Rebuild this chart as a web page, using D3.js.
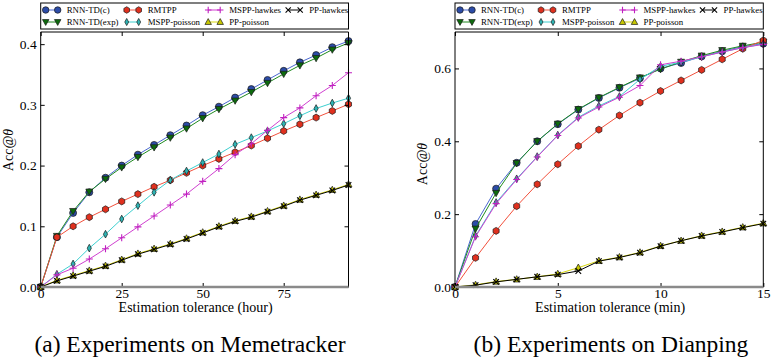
<!DOCTYPE html>
<html>
<head>
<meta charset="utf-8">
<script src="https://cdn.jsdelivr.net/npm/d3@7"></script>
<style>
    body { margin: 0; background: #fff; }
    text { font-family: "Liberation Serif", "Times New Roman", serif; fill: #000; }
</style>
</head>
<body>
<script>
//series names, in legend order
var seriesNames = ["RNN-TD(c)", "RNN-TD(exp)", "RMTPP", "MSPP-poisson", "MSPP-hawkes", "PP-poisson", "PP-hawkes"];

//memetracker panel (hours)
var memeHours = [0, 5, 10, 15, 20, 25, 30, 35, 40, 45, 50, 55, 60, 65, 70, 75, 80, 85, 90, 95];
var memeRnnC = [0, 0.082, 0.122, 0.156, 0.180, 0.200, 0.218, 0.234, 0.250, 0.266, 0.283, 0.297, 0.312, 0.326, 0.341, 0.356, 0.370, 0.382, 0.395, 0.405];
var memeRnnExp = [0, 0.084, 0.125, 0.157, 0.178, 0.197, 0.214, 0.230, 0.246, 0.261, 0.278, 0.293, 0.307, 0.321, 0.336, 0.351, 0.365, 0.377, 0.391, 0.402];
var memeRmtpp = [0, 0.082, 0.100, 0.115, 0.128, 0.141, 0.153, 0.165, 0.176, 0.188, 0.200, 0.211, 0.222, 0.233, 0.245, 0.257, 0.268, 0.279, 0.290, 0.301];
var memeMsppPoisson = [0, 0.021, 0.038, 0.064, 0.087, 0.112, 0.134, 0.156, 0.176, 0.191, 0.205, 0.219, 0.235, 0.246, 0.257, 0.269, 0.282, 0.294, 0.303, 0.311];
var memeMsppHawkes = [0, 0.020, 0.031, 0.046, 0.063, 0.081, 0.099, 0.117, 0.135, 0.153, 0.174, 0.195, 0.218, 0.236, 0.258, 0.279, 0.295, 0.315, 0.332, 0.353];
var memePpPoisson = [0, 0.011, 0.019, 0.027, 0.035, 0.045, 0.055, 0.063, 0.071, 0.080, 0.090, 0.100, 0.109, 0.116, 0.125, 0.134, 0.144, 0.152, 0.160, 0.169];
var memePpHawkes = [0, 0.010, 0.018, 0.026, 0.034, 0.044, 0.054, 0.062, 0.070, 0.079, 0.089, 0.099, 0.108, 0.115, 0.124, 0.133, 0.143, 0.151, 0.159, 0.168];
var memeXTicks = [0, 25, 50, 75];
var memeYTicks = [0, 0.1, 0.2, 0.3, 0.4];

//dianping panel (minutes)
var dianMinutes = [0, 1, 2, 3, 4, 5, 6, 7, 8, 9, 10, 11, 12, 13, 14, 15];
var dianRnnC = [0, 0.173, 0.270, 0.341, 0.400, 0.447, 0.487, 0.519, 0.547, 0.573, 0.600, 0.615, 0.633, 0.647, 0.660, 0.668];
var dianRnnExp = [0, 0.160, 0.258, 0.340, 0.400, 0.448, 0.488, 0.520, 0.548, 0.575, 0.598, 0.618, 0.635, 0.650, 0.662, 0.672];
var dianRmtpp = [0, 0.080, 0.154, 0.222, 0.282, 0.337, 0.387, 0.432, 0.471, 0.506, 0.538, 0.567, 0.596, 0.625, 0.654, 0.677];
var dianMsppPoisson = [0, 0.140, 0.232, 0.297, 0.358, 0.417, 0.466, 0.497, 0.523, 0.570, 0.606, 0.617, 0.632, 0.645, 0.657, 0.667];
var dianMsppHawkes = [0, 0.138, 0.229, 0.295, 0.357, 0.416, 0.464, 0.494, 0.521, 0.553, 0.610, 0.620, 0.632, 0.645, 0.657, 0.666];
var dianPpPoisson = [0, 0.006, 0.015, 0.021, 0.028, 0.036, 0.053, 0.072, 0.082, 0.095, 0.113, 0.127, 0.141, 0.152, 0.164, 0.175];
var dianPpHawkes = [0, 0.005, 0.014, 0.021, 0.028, 0.034, 0.044, 0.071, 0.081, 0.094, 0.112, 0.127, 0.140, 0.151, 0.163, 0.174];
var dianXTicks = [0, 5, 10, 15];
var dianYTicks = [0, 0.2, 0.4, 0.6];

(function(){

    //look of each series (line colour, marker shape, marker fill)
    var lineColors = ["#4a68d0", "#1f8a1f", "#f2503c", "#3ed0d0", "#d040d0", "#d8d810", "#000000"];
    var markerFills = ["#2c4ca8", "#0d6b0d", "#e0301e", "#2cb4b4", "#c020c0", "#c8c800", "#000000"];
    var markerShapes = ["circle", "triDown", "hexagon", "diamond", "plus", "triUp", "cross"];

    var svg = d3.select("body")
        .append("svg")
        .attr("width", 773)
        .attr("height", 359);

    //panel set up
    var panels = [
        {
            x: memeHours,
            series: [memeRnnC, memeRnnExp, memeRmtpp, memeMsppPoisson, memeMsppHawkes, memePpPoisson, memePpHawkes],
            xDomain: [0, 95], yDomain: [0, 0.42],
            xTicks: memeXTicks, yTicks: memeYTicks,
            left: 40.7, right: 348.5, labelY: 150, labelX: 13,
            xLabel: "Estimation tolerance (hour)",
            caption: "(a) Experiments on Memetracker", captionX: 190
        },
        {
            x: dianMinutes,
            series: [dianRnnC, dianRnnExp, dianRmtpp, dianMsppPoisson, dianMsppHawkes, dianPpPoisson, dianPpHawkes],
            xDomain: [0, 15], yDomain: [0, 0.7],
            xTicks: dianXTicks, yTicks: dianYTicks,
            left: 455, right: 763.3, labelY: 164, labelX: 427,
            xLabel: "Estimation tolerance (min)",
            caption: "(b) Experiments on Dianping", captionX: 611
        }
    ];

    var top = 32, bottom = 287;

    panels.forEach(function(p){
        drawPanel(p);
    });

    //marker path around 0,0
    function markerPath(shape, s){
        var r = s / 2;
        if (shape == "circle"){
            return d3.symbol().type(d3.symbolCircle).size(Math.PI * r * r)();
        } else if (shape == "triDown"){
            return "M" + (-r) + "," + (-r * 0.75) + "L" + r + "," + (-r * 0.75) + "L0," + (r * 1.05) + "Z";
        } else if (shape == "triUp"){
            return "M" + (-r) + "," + (r * 0.75) + "L" + r + "," + (r * 0.75) + "L0," + (-r * 1.05) + "Z";
        } else if (shape == "hexagon"){
            var pts = [];
            for (var k = 0; k < 6; k++){
                var a = Math.PI / 2 + k * Math.PI / 3;
                pts.push([r * Math.cos(a), r * Math.sin(a)]);
            }
            return "M" + pts.join("L") + "Z";
        } else if (shape == "diamond"){
            return "M0," + (-r * 1.1) + "L" + (r * 0.6) + ",0L0," + (r * 1.1) + "L" + (-r * 0.6) + ",0Z";
        } else if (shape == "plus"){
            return "M" + (-r) + ",0H" + r + "M0," + (-r) + "V" + r;
        } else {
            var c = r * 0.8;
            return "M" + (-c) + "," + (-c) + "L" + c + "," + c + "M" + (-c) + "," + c + "L" + c + "," + (-c);
        }
    }

    function drawMarker(g, i, cx, cy, s){
        var shape = markerShapes[i];
        var stroked = (shape == "plus" || shape == "cross");
        g.append("path")
            .attr("d", markerPath(shape, s))
            .attr("transform", "translate(" + cx + "," + cy + ")")
            .attr("fill", stroked ? "none" : markerFills[i])
            .attr("stroke", stroked ? markerFills[i] : "#1a1a1a")
            .attr("stroke-width", stroked ? 1.1 : 0.7);
    }

    function drawPanel(p){
        var x = d3.scaleLinear().domain(p.xDomain).range([p.left, p.right]);
        var y = d3.scaleLinear().domain(p.yDomain).range([bottom, top]);

        var g = svg.append("g");

        //series lines and markers
        var line = d3.line()
            .x(function(d){ return x(d[0]); })
            .y(function(d){ return y(d[1]); });

        p.series.forEach(function(vals, i){
            var pts = vals.map(function(v, j){ return [p.x[j], v]; });
            g.append("path")
                .datum(pts)
                .attr("d", line)
                .attr("fill", "none")
                .attr("stroke", lineColors[i])
                .attr("stroke-width", 1);
            var mg = g.append("g");
            pts.forEach(function(d){
                drawMarker(mg, i, x(d[0]), y(d[1]), 7);
            });
        });

        //axes with inward ticks
        var yAxis = d3.axisLeft(y).tickValues(p.yTicks).tickSize(-4).tickPadding(4)
            .tickFormat(d3.format(".1f"));
        var xAxis = d3.axisBottom(x).tickValues(p.xTicks).tickSize(-4).tickPadding(1)
            .tickFormat(d3.format("d"));

        var ya = g.append("g").attr("transform", "translate(" + p.left + ",0)").call(yAxis);
        var xa = g.append("g").attr("transform", "translate(0," + bottom + ")").call(xAxis);
        var ta = g.append("g").attr("transform", "translate(0," + top + ")")
            .call(d3.axisTop(x).tickValues(p.xTicks).tickSize(-4).tickFormat(""));
        var ra = g.append("g").attr("transform", "translate(" + p.right + ",0)")
            .call(d3.axisRight(y).tickValues(p.yTicks).tickSize(-4).tickFormat(""));

        [ya, xa, ta, ra].forEach(function(a){
            a.select(".domain").remove();
            a.selectAll("line").attr("stroke", "#000");
            a.selectAll("text")
                .style("font-family", "'Liberation Serif', serif")
                .style("font-size", "13.5px")
                .attr("fill", "#000");
        });

        //spines
        g.append("path")
            .attr("d", "M" + p.left + "," + bottom + "V" + top + "H" + p.right + "V" + bottom)
            .attr("fill", "none")
            .attr("stroke", "#000")
            .attr("stroke-width", 1);
        g.append("line")
            .attr("x1", p.left).attr("x2", p.right)
            .attr("y1", bottom).attr("y2", bottom)
            .attr("stroke", "#8a8a8a")
            .attr("stroke-width", 2.5);

        //axis titles
        g.append("text")
            .attr("x", (p.left + p.right) / 2 + 1)
            .attr("y", 312)
            .attr("text-anchor", "middle")
            .style("font-size", "14px")
            .text(p.xLabel);

        var yl = g.append("text")
            .attr("transform", "translate(" + p.labelX + "," + p.labelY + ") rotate(-90)")
            .attr("text-anchor", "middle")
            .style("font-size", "14px");
        yl.append("tspan").text("Acc@");
        yl.append("tspan").style("font-style", "italic").text("θ");

        //caption
        g.append("text")
            .attr("x", p.captionX)
            .attr("y", 352)
            .attr("text-anchor", "middle")
            .style("font-size", "23.5px")
            .text(p.caption);

        //legend box
        var lg = g.append("g").attr("transform", "translate(" + p.left + ",3)");
        lg.append("rect")
            .attr("width", p.right - p.left)
            .attr("height", 26)
            .attr("fill", "#fff")
            .attr("stroke", "#000")
            .attr("stroke-width", 1);

        var colX = [26, 107, 188.5, 268.5];
        seriesNames.forEach(function(name, i){
            var tx = colX[Math.floor(i / 2)],
                ty = i % 2 == 0 ? 7 : 19;
            lg.append("line")
                .attr("x1", tx - 21).attr("x2", tx - 9)
                .attr("y1", ty).attr("y2", ty)
                .attr("stroke", lineColors[i])
                .attr("stroke-width", 1);
            drawMarker(lg, i, tx - 21, ty, 6.5);
            drawMarker(lg, i, tx - 9, ty, 6.5);
            lg.append("text")
                .attr("x", tx)
                .attr("y", ty + 3)
                .style("font-size", "8.8px")
                .text(name);
        });
    }

})();
</script>
</body>
</html>
